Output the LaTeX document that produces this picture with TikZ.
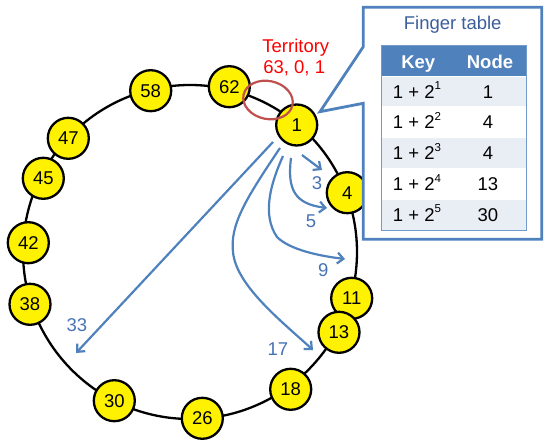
\documentclass[tikz,border=0pt]{standalone}
\usepackage{fontspec}
\setmainfont{Liberation Sans}
\usetikzlibrary{arrows.meta}
\definecolor{ringblue}{HTML}{4F81BD}
\definecolor{lblblue}{HTML}{4672B4}
\definecolor{titleblue}{HTML}{3B5F9A}
\definecolor{rowlight}{HTML}{E9EDF4}
\definecolor{terred}{HTML}{FF0000}
\definecolor{ellred}{HTML}{C0504D}
\newcommand{\sqp}[1]{\raisebox{0.45em}{\fontsize{11.5}{11.5}\selectfont #1}}
\begin{document}
\begin{tikzpicture}[x=1pt,y=-1pt,
  every node/.style={font=\fontsize{18.5}{22}\selectfont},
  ringnode/.style={circle,draw=black,line width=2.3pt,fill=yellow,minimum size=41pt,inner sep=0pt},
  ringline/.style={draw=black,line width=2.3pt},
  fingerarrow/.style={draw=ringblue,line width=2.2pt,-{Straight Barb[length=6pt,width=11pt]}},
  arrowlabel/.style={text=lblblue,inner sep=0pt},
  cellbase/.style={anchor=base,inner sep=0pt},
]
\useasboundingbox (0,0) rectangle (550,444);
\draw[ringline] (190,252) circle[radius=167pt];
% ring nodes
\node[ringnode] (n1)  at (296.7,125)   {1};
\node[ringnode] (n4)  at (347.3,192.7) {4};
\node[ringnode] (n11) at (351.7,298.3) {11};
\node[ringnode] (n13) at (339,332.3)   {13};
\node[ringnode] (n18) at (290.7,389.3) {18};
\node[ringnode] (n26) at (202.3,418.3) {26};
\node[ringnode] (n30) at (114.3,400.7) {30};
\node[ringnode] (n38) at (30,304.3)    {38};
\node[ringnode] (n42) at (28.3,242.7)  {42};
\node[ringnode] (n45) at (43.3,178.3)  {45};
\node[ringnode] (n47) at (68.3,138.3)  {47};
\node[ringnode] (n58) at (150.7,90.7)  {58};
\node[ringnode] (n62) at (229.3,86.7)  {62};
% territory
\draw[ellred,line width=2.2pt,rotate around={-12:(268,100)}] (268,100) ellipse [x radius=25pt, y radius=19pt];
\node[cellbase,text=terred] (ter1) at (295.8,52.5) {Territory};
\node[cellbase,text=terred] (ter2) at (294.2,73.3) {63, 0, 1};
% finger arrows
\coordinate (s3) at (302,155);  \coordinate (e3) at (322,170);
\coordinate (s5) at (291,158);  \coordinate (e5) at (327,208);
\coordinate (s9) at (283,156);  \coordinate (e9) at (345,259);
\coordinate (s17) at (280,148); \coordinate (e17) at (313,350);
\coordinate (s33) at (273,142); \coordinate (e33) at (76,353);
\draw[fingerarrow] (s3) .. controls (311,162) .. (e3);
\draw[fingerarrow] (s5) .. controls (287,190) and (295,204) .. (e5);
\draw[fingerarrow] (s9) .. controls (270,185) and (262,215) .. (277,237) .. controls (290,250) and (320,256) .. (e9);
\draw[fingerarrow] (s17) .. controls (245,200) and (230,225) .. (233,252) .. controls (236,285) and (280,320) .. (e17);
\draw[fingerarrow] (s33) -- (e33);
\node[arrowlabel] (l3)  at (317,183)   {3};
\node[arrowlabel] (l5)  at (311,221.7) {5};
\node[arrowlabel] (l9)  at (323.3,270) {9};
\node[arrowlabel] (l17) at (278,349)   {17};
\node[arrowlabel] (l33) at (77,325)    {33};
% callout
\draw[ringblue,line width=2.8pt,fill=white,line join=miter]
  (363.3,7.3) -- (541.7,7.3) -- (541.7,239.3) -- (363.3,239.3) -- (363.3,103.3)
  -- (320,111.7) -- (363.3,46.7) -- cycle;
\node[cellbase,text=titleblue] (title) at (452.7,29.5) {Finger table};
% table
\fill[ringblue] (381.7,45) rectangle (526.7,76.7);
\fill[rowlight] (381.7,76.7) rectangle (526.7,106.7);
\fill[white]    (381.7,106.7) rectangle (526.7,137.5);
\fill[rowlight] (381.7,137.5) rectangle (526.7,168.3);
\fill[white]    (381.7,168.3) rectangle (526.7,199.3);
\fill[rowlight] (381.7,199.3) rectangle (526.7,230);
\foreach \yy in {76.7,106.7,137.5,168.3,199.3}
  \draw[white,line width=1.5pt] (381.7,\yy) -- (526.7,\yy);
\draw[ringblue!80,line width=0.9pt] (381.7,45) rectangle (526.7,230);
\node[cellbase,text=white,font=\fontsize{18.5}{22}\selectfont\bfseries] (hkey) at (418.3,68.3) {Key};
\node[cellbase,text=white,font=\fontsize{18.5}{22}\selectfont\bfseries] (hnode) at (490,68.3) {Node};
\node[cellbase] (k1) at (417,98.3)  {1 + 2\sqp{1}};
\node[cellbase] (k2) at (417,128.7) {1 + 2\sqp{2}};
\node[cellbase] (k3) at (417,159.5) {1 + 2\sqp{3}};
\node[cellbase] (k4) at (417,190.4) {1 + 2\sqp{4}};
\node[cellbase] (k5) at (417,221.2) {1 + 2\sqp{5}};
\node[cellbase] (v1) at (488,98.3)  {1};
\node[cellbase] (v2) at (488,128.7) {4};
\node[cellbase] (v3) at (488,159.5) {4};
\node[cellbase] (v4) at (488,190.4) {13};
\node[cellbase] (v5) at (488,221.2) {30};
\end{tikzpicture}
\end{document}
